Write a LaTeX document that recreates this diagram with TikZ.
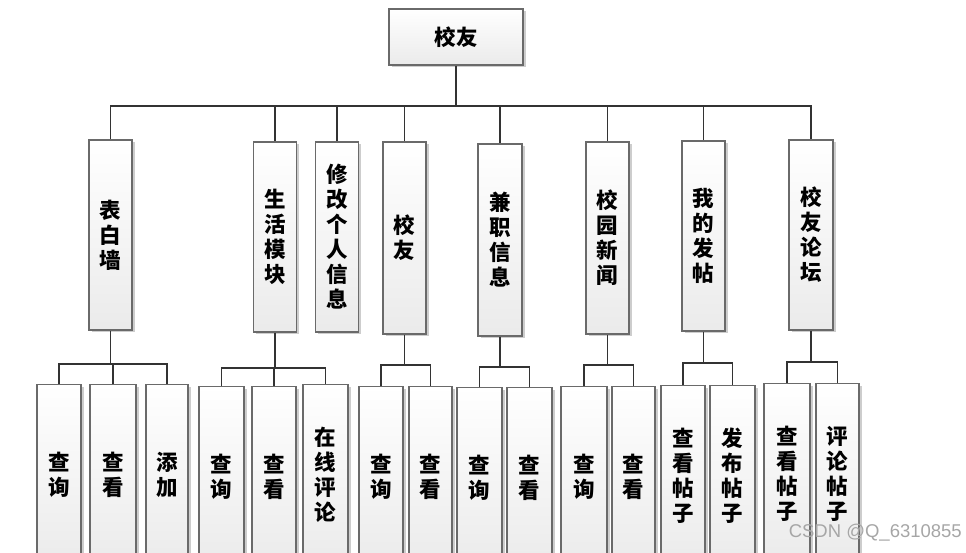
\documentclass[tikz,border=0pt]{standalone}
\usepackage{fontspec}
\newfontfamily\cjk{Noto Sans CJK SC}
\newfontfamily\wm{Liberation Sans}
\usetikzlibrary{shadows}
\definecolor{linec}{HTML}{333333}
\definecolor{boxc}{HTML}{6A6A6A}
\definecolor{shadc}{HTML}{CDCDCD}
\tikzset{
  box/.style={draw=boxc, line width=1.2pt, top color=white, bottom color=black!8,
    inner sep=0pt, align=center, font=\cjk\bfseries\fontsize{21.5}{25}\selectfont,
    drop shadow={shadow xshift=2.5pt, shadow yshift=-2pt, fill=shadc, opacity=1}},
  mid/.style={box, minimum width=43pt, minimum height=190pt},
  leaf/.style={box, minimum width=44pt, minimum height=180pt, anchor=north},
  conn/.style={draw=linec, line width=1.8pt},
}
\begin{document}
\begin{tikzpicture}[x=1pt, y=-1pt]
\useasboundingbox (0,0) rectangle (966,552);
\clip (0,0) rectangle (966,552);
% top
\node[box, minimum width=134pt, minimum height=56pt] (top) at (456,37) {校友};
% level 2
\node[mid] (n1) at (110.5,235) {表\\白\\墙};
\node[mid] (n2) at (275,237) {生\\活\\模\\块};
\node[mid] (n3) at (337,237) {修\\改\\个\\人\\信\\息};
\node[mid, minimum height=192pt] (n4) at (404.5,238) {校\\友};
\node[mid, minimum height=192pt, minimum width=44pt] (n5) at (500,240) {兼\\职\\信\\息};
\node[mid, minimum height=192pt] (n6) at (607.5,238) {校\\园\\新\\闻};
\node[mid] (n7) at (703.5,236) {我\\的\\发\\帖};
\node[mid, minimum width=44pt] (n8) at (811,235) {校\\友\\论\\坛};
% level 3
\node[leaf] (a1) at (59,384) {查\\询};
\node[leaf, minimum width=46pt] (a2) at (113,384) {查\\看};
\node[leaf, minimum width=42pt] (a3) at (167,384) {添\\加};
\node[leaf, minimum width=45pt] (b1) at (221.5,386) {查\\询};
\node[leaf] (b2) at (274,386) {查\\看};
\node[leaf, minimum width=45pt] (b3) at (325.5,384) {在\\线\\评\\论};
\node[leaf] (c1) at (381,386) {查\\询};
\node[leaf, minimum width=43pt] (c2) at (430.5,386) {查\\看};
\node[leaf, minimum width=45pt] (d1) at (479.5,387) {查\\询};
\node[leaf, minimum width=45pt] (d2) at (529.5,387) {查\\看};
\node[leaf, minimum width=46pt] (e1) at (584,386) {查\\询};
\node[leaf, minimum width=43pt] (e2) at (633.5,386) {查\\看};
\node[leaf] (f1) at (683,385) {查\\看\\帖\\子};
\node[leaf, minimum width=45pt] (f2) at (732.5,385) {发\\布\\帖\\子};
\node[leaf, minimum width=46pt] (h1) at (787,383) {查\\看\\帖\\子};
\node[leaf, minimum width=43pt] (h2) at (837.5,383) {评\\论\\帖\\子};
% connectors level 1-2
\coordinate (bus) at (456,106);
\draw[conn] (top.south) -- (bus);
\foreach \n in {n1,n2,n3,n4,n5,n6,n7,n8} \draw[conn] (bus) -| (\n.north);
% connectors level 2-3
\path (n1.south) ++(0,33) coordinate (j1);
\path (n2.south) ++(0,35) coordinate (j2);
\path (n4.south) ++(0,30) coordinate (j4);
\path (n5.south) ++(0,30) coordinate (j5);
\path (n6.south) ++(0,30) coordinate (j6);
\path (n7.south) ++(0,31) coordinate (j7);
\path (n8.south) ++(0,31) coordinate (j8);
\draw[conn] (n1.south) -- (j1); \draw[conn] (j1) -| (a1.north); \draw[conn] (j1) -| (a2.north); \draw[conn] (j1) -| (a3.north);
\draw[conn] (n2.south) -- (j2); \draw[conn] (j2) -| (b1.north); \draw[conn] (j2) -| (b2.north); \draw[conn] (j2) -| (b3.north);
\draw[conn] (n4.south) -- (j4); \draw[conn] (j4) -| (c1.north); \draw[conn] (j4) -| (c2.north);
\draw[conn] (n5.south) -- (j5); \draw[conn] (j5) -| (d1.north); \draw[conn] (j5) -| (d2.north);
\draw[conn] (n6.south) -- (j6); \draw[conn] (j6) -| (e1.north); \draw[conn] (j6) -| (e2.north);
\draw[conn] (n7.south) -- (j7); \draw[conn] (j7) -| (f1.north); \draw[conn] (j7) -| (f2.north);
\draw[conn] (n8.south) -- (j8); \draw[conn] (j8) -| (h1.north); \draw[conn] (j8) -| (h2.north);
% watermark
\node[font=\wm\fontsize{18.5}{18.5}\selectfont, text=black!35, anchor=east, inner sep=0pt] (wm) at (962,533) {CSDN @Q\_6310855};
\end{tikzpicture}
\end{document}
